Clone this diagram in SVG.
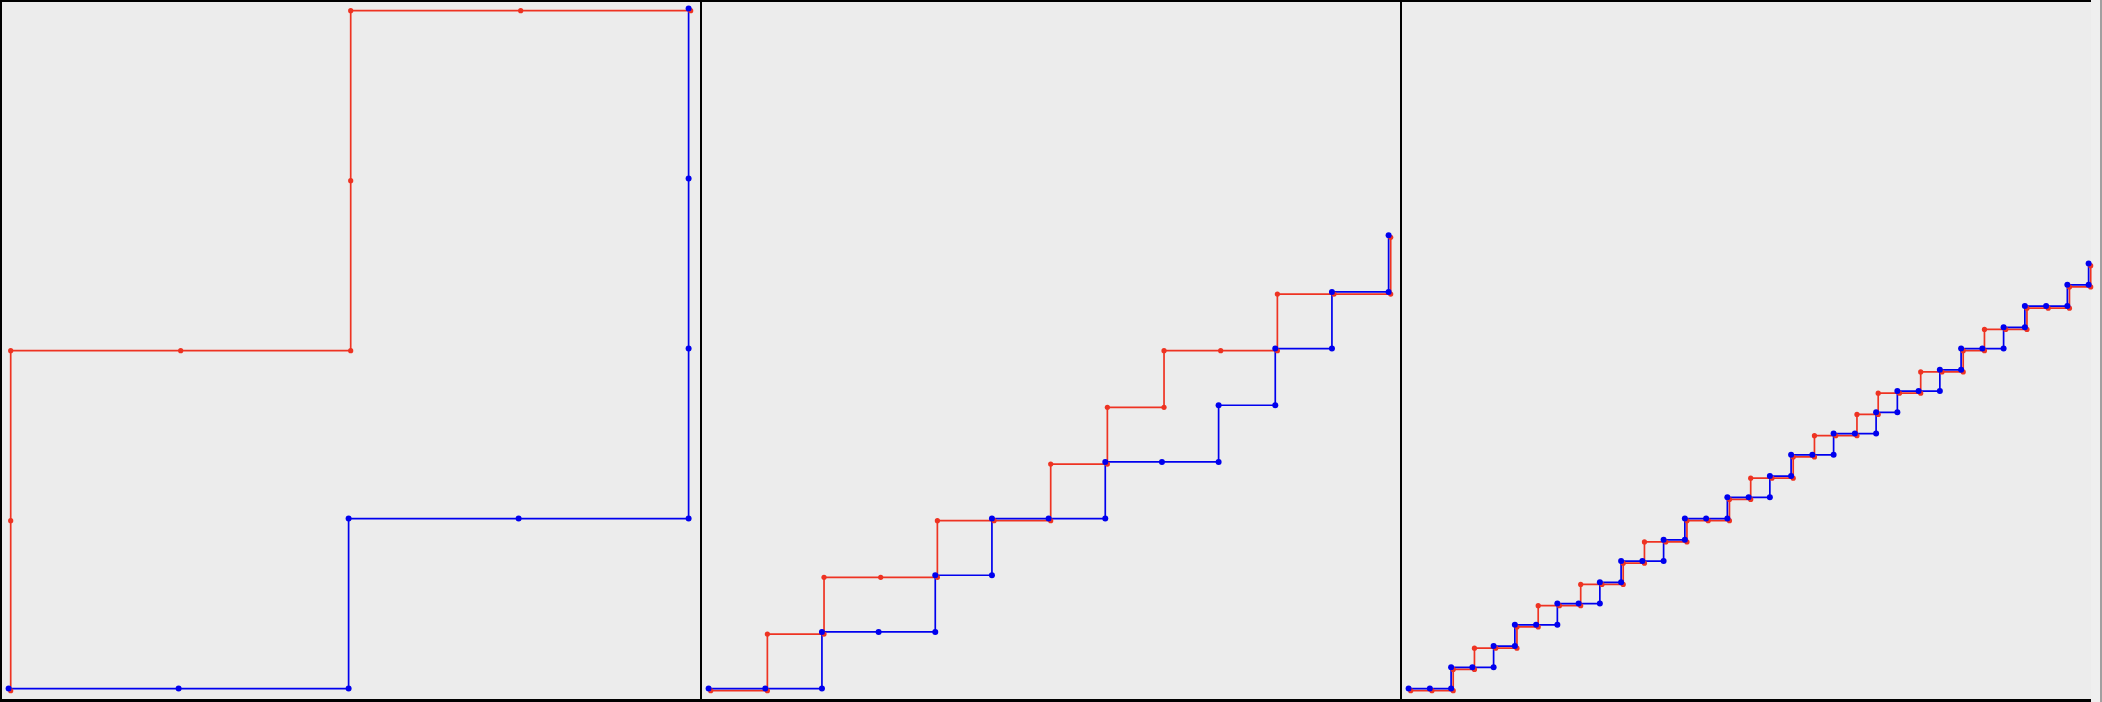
<svg xmlns="http://www.w3.org/2000/svg" width="2102" height="702" viewBox="0 0 2102 702">
<style>
.r{fill:none;stroke:#ee3322;stroke-width:1.7}
.b{fill:none;stroke:#0000ee;stroke-width:1.7}
.rd circle{fill:#ee3322;r:2.6}
.bd circle{fill:#0000ee;r:3}
.frame{fill:#000}
</style>
<rect x="0" y="0" width="2102" height="702" fill="#ececec"/>
<rect x="2091" y="0" width="9" height="702" fill="#efefef"/>
<rect x="2100" y="0" width="2" height="702" fill="#a0a0a0"/>
<g id="frame" class="frame">
<rect x="0" y="0" width="2091" height="2"/>
<rect x="0" y="699" width="2091" height="3"/>
<rect x="0" y="0" width="2" height="702"/>
<rect x="700" y="0" width="2" height="702"/>
<rect x="1400" y="0" width="2" height="702"/>
</g>
<g id="connectors">
<polyline class="r" points="10.7,690.7 10.7,520.7 10.7,350.7 180.7,350.7 350.7,350.7 350.7,180.7 350.7,10.7 520.7,10.7 690.7,10.7"/>
<polyline class="b" points="8.6,688.6 178.6,688.6 348.6,688.6 348.6,518.6 518.6,518.6 688.6,518.6 688.6,348.6 688.6,178.6 688.6,8.6"/>
<polyline class="r" points="710.7,690.7 767.37,690.7 767.37,634.03 824.03,634.03 824.03,577.37 880.7,577.37 937.37,577.37 937.37,520.7 994.03,520.7 1050.7,520.7 1050.7,464.03 1107.37,464.03 1107.37,407.37 1164.03,407.37 1164.03,350.7 1220.7,350.7 1277.37,350.7 1277.37,294.03 1334.03,294.03 1390.7,294.03 1390.7,237.37"/>
<polyline class="b" points="708.6,688.6 765.27,688.6 821.93,688.6 821.93,631.93 878.6,631.93 935.27,631.93 935.27,575.27 991.93,575.27 991.93,518.6 1048.6,518.6 1105.27,518.6 1105.27,461.93 1161.93,461.93 1218.6,461.93 1218.6,405.27 1275.27,405.27 1275.27,348.6 1331.93,348.6 1331.93,291.93 1388.6,291.93 1388.6,235.27"/>
<polyline class="r" points="1410.7,690.7 1431.95,690.7 1453.2,690.7 1453.2,669.45 1474.45,669.45 1474.45,648.2 1495.7,648.2 1516.95,648.2 1516.95,626.95 1538.2,626.95 1538.2,605.7 1559.45,605.7 1580.7,605.7 1580.7,584.45 1601.95,584.45 1623.2,584.45 1623.2,563.2 1644.45,563.2 1644.45,541.95 1665.7,541.95 1686.95,541.95 1686.95,520.7 1708.2,520.7 1729.45,520.7 1729.45,499.45 1750.7,499.45 1750.7,478.2 1771.95,478.2 1793.2,478.2 1793.2,456.95 1814.45,456.95 1814.45,435.7 1835.7,435.7 1856.95,435.7 1856.95,414.45 1878.2,414.45 1878.2,393.2 1899.45,393.2 1920.7,393.2 1920.7,371.95 1941.95,371.95 1963.2,371.95 1963.2,350.7 1984.45,350.7 1984.45,329.45 2005.7,329.45 2026.95,329.45 2026.95,308.2 2048.2,308.2 2069.45,308.2 2069.45,286.95 2090.7,286.95 2090.7,265.7"/>
<polyline class="b" points="1408.6,688.6 1429.85,688.6 1451.1,688.6 1451.1,667.35 1472.35,667.35 1493.6,667.35 1493.6,646.1 1514.85,646.1 1514.85,624.85 1536.1,624.85 1557.35,624.85 1557.35,603.6 1578.6,603.6 1599.85,603.6 1599.85,582.35 1621.1,582.35 1621.1,561.1 1642.35,561.1 1663.6,561.1 1663.6,539.85 1684.85,539.85 1684.85,518.6 1706.1,518.6 1727.35,518.6 1727.35,497.35 1748.6,497.35 1769.85,497.35 1769.85,476.1 1791.1,476.1 1791.1,454.85 1812.35,454.85 1833.6,454.85 1833.6,433.6 1854.85,433.6 1876.1,433.6 1876.1,412.35 1897.35,412.35 1897.35,391.1 1918.6,391.1 1939.85,391.1 1939.85,369.85 1961.1,369.85 1961.1,348.6 1982.35,348.6 2003.6,348.6 2003.6,327.35 2024.85,327.35 2024.85,306.1 2046.1,306.1 2067.35,306.1 2067.35,284.85 2088.6,284.85 2088.6,263.6"/>
</g>
<g id="red-nodes" class="rd">
<circle cx="10.7" cy="690.7"/><circle cx="10.7" cy="520.7"/><circle cx="10.7" cy="350.7"/><circle cx="180.7" cy="350.7"/><circle cx="350.7" cy="350.7"/><circle cx="350.7" cy="180.7"/><circle cx="350.7" cy="10.7"/><circle cx="520.7" cy="10.7"/><circle cx="690.7" cy="10.7"/>
<circle cx="710.7" cy="690.7"/><circle cx="767.37" cy="690.7"/><circle cx="767.37" cy="634.03"/><circle cx="824.03" cy="634.03"/><circle cx="824.03" cy="577.37"/><circle cx="880.7" cy="577.37"/><circle cx="937.37" cy="577.37"/><circle cx="937.37" cy="520.7"/><circle cx="994.03" cy="520.7"/><circle cx="1050.7" cy="520.7"/><circle cx="1050.7" cy="464.03"/><circle cx="1107.37" cy="464.03"/><circle cx="1107.37" cy="407.37"/><circle cx="1164.03" cy="407.37"/><circle cx="1164.03" cy="350.7"/><circle cx="1220.7" cy="350.7"/><circle cx="1277.37" cy="350.7"/><circle cx="1277.37" cy="294.03"/><circle cx="1334.03" cy="294.03"/><circle cx="1390.7" cy="294.03"/><circle cx="1390.7" cy="237.37"/>
<circle cx="1410.7" cy="690.7"/><circle cx="1431.95" cy="690.7"/><circle cx="1453.2" cy="690.7"/><circle cx="1453.2" cy="669.45"/><circle cx="1474.45" cy="669.45"/><circle cx="1474.45" cy="648.2"/><circle cx="1495.7" cy="648.2"/><circle cx="1516.95" cy="648.2"/><circle cx="1516.95" cy="626.95"/><circle cx="1538.2" cy="626.95"/><circle cx="1538.2" cy="605.7"/><circle cx="1559.45" cy="605.7"/><circle cx="1580.7" cy="605.7"/><circle cx="1580.7" cy="584.45"/><circle cx="1601.95" cy="584.45"/><circle cx="1623.2" cy="584.45"/><circle cx="1623.2" cy="563.2"/><circle cx="1644.45" cy="563.2"/><circle cx="1644.45" cy="541.95"/><circle cx="1665.7" cy="541.95"/><circle cx="1686.95" cy="541.95"/><circle cx="1686.95" cy="520.7"/><circle cx="1708.2" cy="520.7"/><circle cx="1729.45" cy="520.7"/><circle cx="1729.45" cy="499.45"/><circle cx="1750.7" cy="499.45"/><circle cx="1750.7" cy="478.2"/><circle cx="1771.95" cy="478.2"/><circle cx="1793.2" cy="478.2"/><circle cx="1793.2" cy="456.95"/><circle cx="1814.45" cy="456.95"/><circle cx="1814.45" cy="435.7"/><circle cx="1835.7" cy="435.7"/><circle cx="1856.95" cy="435.7"/><circle cx="1856.95" cy="414.45"/><circle cx="1878.2" cy="414.45"/><circle cx="1878.2" cy="393.2"/><circle cx="1899.45" cy="393.2"/><circle cx="1920.7" cy="393.2"/><circle cx="1920.7" cy="371.95"/><circle cx="1941.95" cy="371.95"/><circle cx="1963.2" cy="371.95"/><circle cx="1963.2" cy="350.7"/><circle cx="1984.45" cy="350.7"/><circle cx="1984.45" cy="329.45"/><circle cx="2005.7" cy="329.45"/><circle cx="2026.95" cy="329.45"/><circle cx="2026.95" cy="308.2"/><circle cx="2048.2" cy="308.2"/><circle cx="2069.45" cy="308.2"/><circle cx="2069.45" cy="286.95"/><circle cx="2090.7" cy="286.95"/><circle cx="2090.7" cy="265.7"/>
</g>
<g id="blue-nodes" class="bd">
<circle cx="8.6" cy="688.6"/><circle cx="178.6" cy="688.6"/><circle cx="348.6" cy="688.6"/><circle cx="348.6" cy="518.6"/><circle cx="518.6" cy="518.6"/><circle cx="688.6" cy="518.6"/><circle cx="688.6" cy="348.6"/><circle cx="688.6" cy="178.6"/><circle cx="688.6" cy="8.6"/>
<circle cx="708.6" cy="688.6"/><circle cx="765.27" cy="688.6"/><circle cx="821.93" cy="688.6"/><circle cx="821.93" cy="631.93"/><circle cx="878.6" cy="631.93"/><circle cx="935.27" cy="631.93"/><circle cx="935.27" cy="575.27"/><circle cx="991.93" cy="575.27"/><circle cx="991.93" cy="518.6"/><circle cx="1048.6" cy="518.6"/><circle cx="1105.27" cy="518.6"/><circle cx="1105.27" cy="461.93"/><circle cx="1161.93" cy="461.93"/><circle cx="1218.6" cy="461.93"/><circle cx="1218.6" cy="405.27"/><circle cx="1275.27" cy="405.27"/><circle cx="1275.27" cy="348.6"/><circle cx="1331.93" cy="348.6"/><circle cx="1331.93" cy="291.93"/><circle cx="1388.6" cy="291.93"/><circle cx="1388.6" cy="235.27"/>
<circle cx="1408.6" cy="688.6"/><circle cx="1429.85" cy="688.6"/><circle cx="1451.1" cy="688.6"/><circle cx="1451.1" cy="667.35"/><circle cx="1472.35" cy="667.35"/><circle cx="1493.6" cy="667.35"/><circle cx="1493.6" cy="646.1"/><circle cx="1514.85" cy="646.1"/><circle cx="1514.85" cy="624.85"/><circle cx="1536.1" cy="624.85"/><circle cx="1557.35" cy="624.85"/><circle cx="1557.35" cy="603.6"/><circle cx="1578.6" cy="603.6"/><circle cx="1599.85" cy="603.6"/><circle cx="1599.85" cy="582.35"/><circle cx="1621.1" cy="582.35"/><circle cx="1621.1" cy="561.1"/><circle cx="1642.35" cy="561.1"/><circle cx="1663.6" cy="561.1"/><circle cx="1663.6" cy="539.85"/><circle cx="1684.85" cy="539.85"/><circle cx="1684.85" cy="518.6"/><circle cx="1706.1" cy="518.6"/><circle cx="1727.35" cy="518.6"/><circle cx="1727.35" cy="497.35"/><circle cx="1748.6" cy="497.35"/><circle cx="1769.85" cy="497.35"/><circle cx="1769.85" cy="476.1"/><circle cx="1791.1" cy="476.1"/><circle cx="1791.1" cy="454.85"/><circle cx="1812.35" cy="454.85"/><circle cx="1833.6" cy="454.85"/><circle cx="1833.6" cy="433.6"/><circle cx="1854.85" cy="433.6"/><circle cx="1876.1" cy="433.6"/><circle cx="1876.1" cy="412.35"/><circle cx="1897.35" cy="412.35"/><circle cx="1897.35" cy="391.1"/><circle cx="1918.6" cy="391.1"/><circle cx="1939.85" cy="391.1"/><circle cx="1939.85" cy="369.85"/><circle cx="1961.1" cy="369.85"/><circle cx="1961.1" cy="348.6"/><circle cx="1982.35" cy="348.6"/><circle cx="2003.6" cy="348.6"/><circle cx="2003.6" cy="327.35"/><circle cx="2024.85" cy="327.35"/><circle cx="2024.85" cy="306.1"/><circle cx="2046.1" cy="306.1"/><circle cx="2067.35" cy="306.1"/><circle cx="2067.35" cy="284.85"/><circle cx="2088.6" cy="284.85"/><circle cx="2088.6" cy="263.6"/>
</g>
</svg>
